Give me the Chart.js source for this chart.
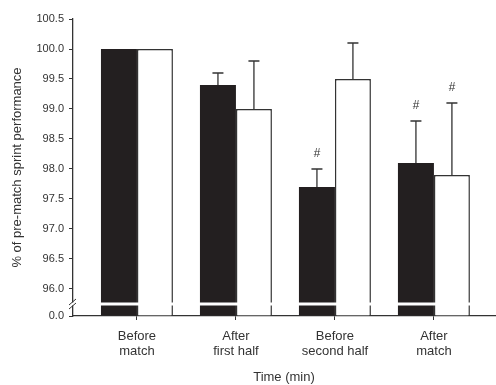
<!DOCTYPE html>
<html>
<head>
<meta charset="utf-8">
<script src="https://cdn.jsdelivr.net/npm/chart.js@4/dist/chart.umd.min.js"></script>
<style>
  html, body { margin: 0; padding: 0; background: #fff; }
  #wrap { width: 496px; height: 385px; position: relative; }
</style>
</head>
<body>
<div id="wrap"><canvas id="chart"></canvas></div>
<script>
// data
const labels = [['Before', 'match'], ['After', 'first half'], ['Before', 'second half'], ['After', 'match']];
const blackValues = [100.0, 99.4, 97.7, 98.1];
const whiteValues = [100.0, 99.0, 99.5, 97.9];
const blackErr = [0, 0.2, 0.3, 0.7];
const whiteErr = [0, 0.8, 0.6, 1.2];
const blackSig = [false, false, true, true];
const whiteSig = [false, false, false, true];
const yTicks = [96.0, 96.5, 97.0, 97.5, 98.0, 98.5, 99.0, 99.5, 100.0, 100.5];

// broken axis: 0.0 is drawn just below 96.0
const axisZero = 95.55;
const breakAt = 95.75;
const ink = '#333';

Chart.defaults.font.family = '"Liberation Sans", Arial, sans-serif';

// spread the categories a bit wider than chart.js does by default
const shiftCategories = {
  id: 'shiftCategories',
  afterLayout(chart) {
    const x = chart.scales.x;
    x._startValue = -0.646;
    x._valueRange = 4.263;
  }
};

const errorBars = {
  id: 'errorBars',
  afterDatasetsDraw(chart) {
    const ctx = chart.ctx;
    const y = chart.scales.y;
    const a = chart.chartArea;
    const sets = [[blackValues, blackErr, blackSig], [whiteValues, whiteErr, whiteSig]];
    ctx.save();
    ctx.strokeStyle = ink;
    ctx.fillStyle = ink;
    ctx.lineWidth = 1.3;
    ctx.font = 'italic 12px "Liberation Sans", Arial, sans-serif';
    ctx.textAlign = 'center';
    ctx.textBaseline = 'middle';
    sets.forEach(([vals, errs, sig], di) => {
      chart.getDatasetMeta(di).data.forEach((bar, i) => {
        if (!errs[i]) return;
        const top = y.getPixelForValue(vals[i] + errs[i]);
        const base = y.getPixelForValue(vals[i]);
        ctx.beginPath();
        ctx.moveTo(bar.x, base);
        ctx.lineTo(bar.x, top);
        ctx.moveTo(bar.x - 5.5, top);
        ctx.lineTo(bar.x + 5.5, top);
        ctx.stroke();
        if (sig[i]) ctx.fillText('#', bar.x, top - 15);
      });
    });

    // axis break
    const by = y.getPixelForValue(breakAt);
    ctx.fillStyle = '#fff';
    ctx.fillRect(a.left - 5, by - 1.5, a.right - a.left + 5, 3);
    ctx.lineWidth = 1;
    ctx.beginPath();
    ctx.moveTo(a.left - 4, by + 1);
    ctx.lineTo(a.left + 3, by - 5);
    ctx.moveTo(a.left - 4, by + 5);
    ctx.lineTo(a.left + 3, by - 1);
    ctx.stroke();
    ctx.restore();
  }
};

new Chart(document.getElementById('chart'), {
  type: 'bar',
  data: {
    labels: labels,
    datasets: [
      { data: blackValues, backgroundColor: '#231f20', borderColor: '#231f20', borderWidth: 0, base: axisZero },
      { data: whiteValues, backgroundColor: '#fff', borderColor: ink, borderWidth: 1.5, base: axisZero }
    ]
  },
  options: {
    responsive: true,
    maintainAspectRatio: false,
    animation: false,
    categoryPercentage: 0.727,
    barPercentage: 1.0,
    layout: { padding: { top: 19, right: 1, left: 0, bottom: 0 } },
    plugins: { legend: { display: false }, tooltip: { enabled: false } },
    scales: {
      x: {
        offset: true,
        grid: { drawOnChartArea: false, offset: false, tickLength: 4, color: ink },
        border: { color: ink, width: 1.3 },
        ticks: { color: ink, font: { size: 13, lineHeight: 1.15 }, padding: 9, maxRotation: 0, autoSkip: false },
        title: { display: true, text: 'Time (min)', color: ink, font: { size: 13, lineHeight: 1.1 }, padding: { top: 0, bottom: 0 } },
        afterFit(s) { s.height = 69; }
      },
      y: {
        min: axisZero,
        max: 100.5,
        afterBuildTicks(s) { s.ticks = [axisZero, ...yTicks].map(v => ({ value: v })); },
        grid: { drawOnChartArea: false, tickLength: 4, color: ink },
        border: { color: ink, width: 1.3 },
        ticks: {
          color: ink,
          font: { size: 11 },
          padding: 5,
          callback: v => v === axisZero ? '0.0' : v.toFixed(1)
        },
        title: { display: true, text: '% of pre-match sprint performance', color: ink, font: { size: 13 }, padding: { top: 10, bottom: 0 } },
        afterFit(s) { s.width = 73; }
      }
    }
  },
  plugins: [shiftCategories, errorBars]
});
</script>
</body>
</html>
